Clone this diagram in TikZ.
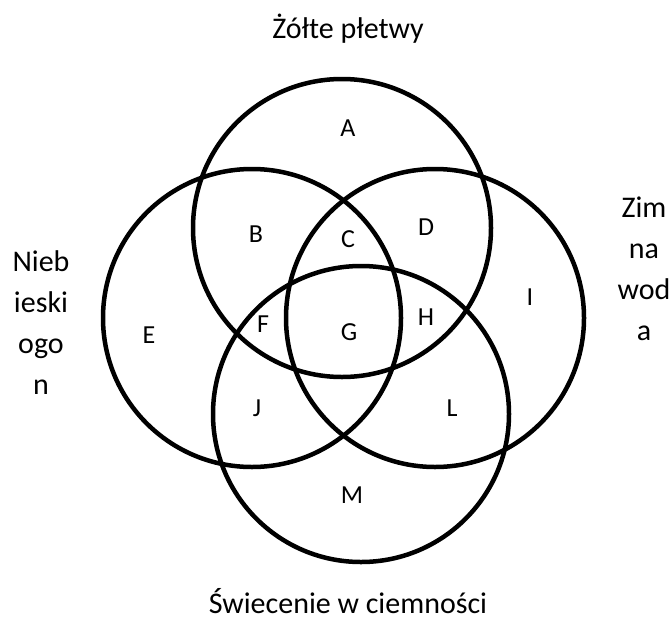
\documentclass[tikz,border=0pt]{standalone}
\usepackage{fontspec}
\setmainfont{Carlito}
\usepackage{tikz}

\tikzset{
	ring/.style={black, line width=4.5pt},
	region/.style={font=\fontsize{26}{31}\selectfont},
	setname/.style={font=\fontsize{30}{36}\selectfont, anchor=base}
}

\begin{document}
\begin{tikzpicture}[x=1pt, y=-1pt]
	\useasboundingbox (0,0) rectangle (671,621);
	
	\draw[ring](342,228) circle[radius=149];
	\draw[ring](252,318) circle[radius=149];
	\draw[ring](435,318) circle[radius=149];
	\draw[ring](361,414) circle[radius=148];
	
	\node[region] (A) at (348,128){A};
	\node[region] (B) at (256,234){B};
	\node[region] (C) at (348,239){C};
	\node[region] (D) at (426,227){D};
	\node[region] (E) at (149,335){E};
	\node[region] (F) at (263,324){F};
	\node[region] (G) at (349,332){G};
	\node[region] (H) at (426,317){H};
	\node[region] (I) at (530,297){I};
	\node[region] (J) at (257,408){J};
	\node[region] (L) at (452,408){L};
	\node[region] (M) at (352,495){M};
	
	\node[setname] (top) at (348,38){Żółte płetwy};
	\node[setname] (bottom) at (348,613){Świecenie w ciemności};
	\node[setname] (left1) at (41,271){Nieb};
	\node[setname] (left2) at (41,312){ieski};
	\node[setname] (left3) at (41,353){ogo};
	\node[setname] (left4) at (41,394){n};
	\node[setname] (right1) at (644,217){Zim};
	\node[setname] (right2) at (644,258){na};
	\node[setname] (right3) at (644,299){wod};
	\node[setname] (right4) at (644,340){a};
\end{tikzpicture}
\end{document}
